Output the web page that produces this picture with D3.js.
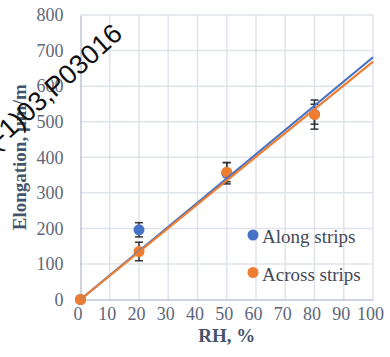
<!DOCTYPE html>
<html>
<head>
<meta charset="utf-8">
<script src="https://cdn.jsdelivr.net/npm/d3@7"></script>
<style>
  html, body { margin: 0; padding: 0; background: #fff; }
  svg { display: block; }
</style>
</head>
<body>
<svg id="chart" width="390" height="357"></svg>
<script>
// Relative humidity (%) at which each sample was measured
const rh = [0, 20, 50, 80];
// Elongation (µm/m) and its spread for each strip direction
const alongStrips = [0, 196, 355, 521];
const alongErr = [0, 20, 30, 28];
const acrossStrips = [0, 135, 358, 520];
const acrossErr = [0, 26, 27, 41];
// Axis ticks
const xTicks = [0, 10, 20, 30, 40, 50, 60, 70, 80, 90, 100];
const yTicks = [0, 100, 200, 300, 400, 500, 600, 700, 800];
const seriesNames = ["Along strips", "Across strips"];
const stampText = "(-1)03,P03016";

const colors = ["#4472C4", "#ED7D31"];
const svg = d3.select("#chart");

const x = d3.scaleLinear().domain([0, 100]).range([80.5, 373]);
const y = d3.scaleLinear().domain([0, 800]).range([299.5, 15]);

// Gridlines
const grid = svg.append("g");
grid.selectAll("line.v").data(xTicks.slice(1)).join("line")
  .attr("x1", d => x(d)).attr("x2", d => x(d))
  .attr("y1", y(800)).attr("y2", y(0))
  .attr("stroke", "#dfe3ea").attr("stroke-width", 1.5);
grid.selectAll("line.h").data(yTicks.slice(1)).join("line")
  .attr("x1", x(0)).attr("x2", x(100))
  .attr("y1", d => y(d)).attr("y2", d => y(d))
  .attr("stroke", "#dfe3ea").attr("stroke-width", 1.5);

// Axes
const fontSerif = "'Liberation Serif', 'Times New Roman', serif";
const xAxis = svg.append("g").attr("transform", `translate(0,${y(0)})`)
  .call(d3.axisBottom(x).tickValues(xTicks).tickSize(0).tickPadding(8));
const yAxis = svg.append("g").attr("transform", `translate(${x(0)},0)`)
  .call(d3.axisLeft(y).tickValues(yTicks).tickSize(0).tickPadding(17));
[xAxis, yAxis].forEach(a => {
  a.select(".domain").attr("stroke", "#bfc6d3").attr("stroke-width", 1.5);
  a.selectAll("text").attr("font-family", fontSerif).attr("font-size", 18)
    .attr("fill", "#5d6679");
});
xAxis.selectAll("text").attr("dx", -3);

// Axis titles
svg.append("text").attr("x", x(50)).attr("y", 342)
  .attr("text-anchor", "middle").attr("font-family", fontSerif)
  .attr("font-weight", "bold").attr("font-size", 19).attr("fill", "#44546A")
  .text("RH, %");
svg.append("text")
  .attr("transform", `translate(26,${(y(0) + y(800)) / 2}) rotate(-90)`)
  .attr("text-anchor", "middle").attr("font-family", fontSerif)
  .attr("font-weight", "bold").attr("font-size", 19).attr("fill", "#44546A")
  .text("Elongation, µm/m");

// Series data
const series = [
  { name: seriesNames[0], values: alongStrips, err: alongErr, color: colors[0] },
  { name: seriesNames[1], values: acrossStrips, err: acrossErr, color: colors[1] }
];

// Error bars and markers
series.forEach(s => {
  const g = svg.append("g");
  const pts = rh.map((r, i) => ({ r, v: s.values[i], e: s.err[i] })).filter(p => p.e > 0);
  g.selectAll("line.bar").data(pts).join("line")
    .attr("x1", p => x(p.r)).attr("x2", p => x(p.r))
    .attr("y1", p => y(p.v - p.e)).attr("y2", p => y(p.v + p.e))
    .attr("stroke", "#2f3338").attr("stroke-width", 1.5);
  ["top", "bottom"].forEach(side => {
    g.selectAll("line.cap-" + side).data(pts).join("line")
      .attr("x1", p => x(p.r) - 4).attr("x2", p => x(p.r) + 4)
      .attr("y1", p => y(side === "top" ? p.v + p.e : p.v - p.e))
      .attr("y2", p => y(side === "top" ? p.v + p.e : p.v - p.e))
      .attr("stroke", "#2f3338").attr("stroke-width", 1.5);
  });
});
series.forEach(s => {
  svg.append("g").selectAll("circle").data(rh.map((r, i) => [r, s.values[i]])).join("circle")
    .attr("cx", d => x(d[0])).attr("cy", d => y(d[1])).attr("r", 5.5)
    .attr("fill", s.color);
});

// Linear trendlines through the origin (least squares)
series.forEach(s => {
  const sxy = d3.sum(rh, (r, i) => r * s.values[i]);
  const sxx = d3.sum(rh, r => r * r);
  const slope = sxy / sxx;
  svg.append("line")
    .attr("x1", x(0)).attr("y1", y(0))
    .attr("x2", x(100)).attr("y2", y(slope * 100))
    .attr("stroke", s.color).attr("stroke-width", 2.2);
});

// Legend
const legend = svg.append("g");
series.forEach((s, i) => {
  const ly = 235 + i * 37.5;
  legend.append("circle").attr("cx", 253).attr("cy", ly).attr("r", 5.5).attr("fill", s.color);
  legend.append("text").attr("x", 262).attr("y", ly + 8)
    .attr("font-family", fontSerif).attr("font-size", 19).attr("fill", "#3f4858")
    .text(s.name);
});

// Sample stamp
svg.append("text")
  .attr("transform", "translate(124,36) rotate(-42)")
  .attr("text-anchor", "end")
  .attr("font-family", "'Liberation Sans', Arial, sans-serif")
  .attr("font-size", 27).attr("fill", "#111")
  .text(stampText);
</script>
</body>
</html>
